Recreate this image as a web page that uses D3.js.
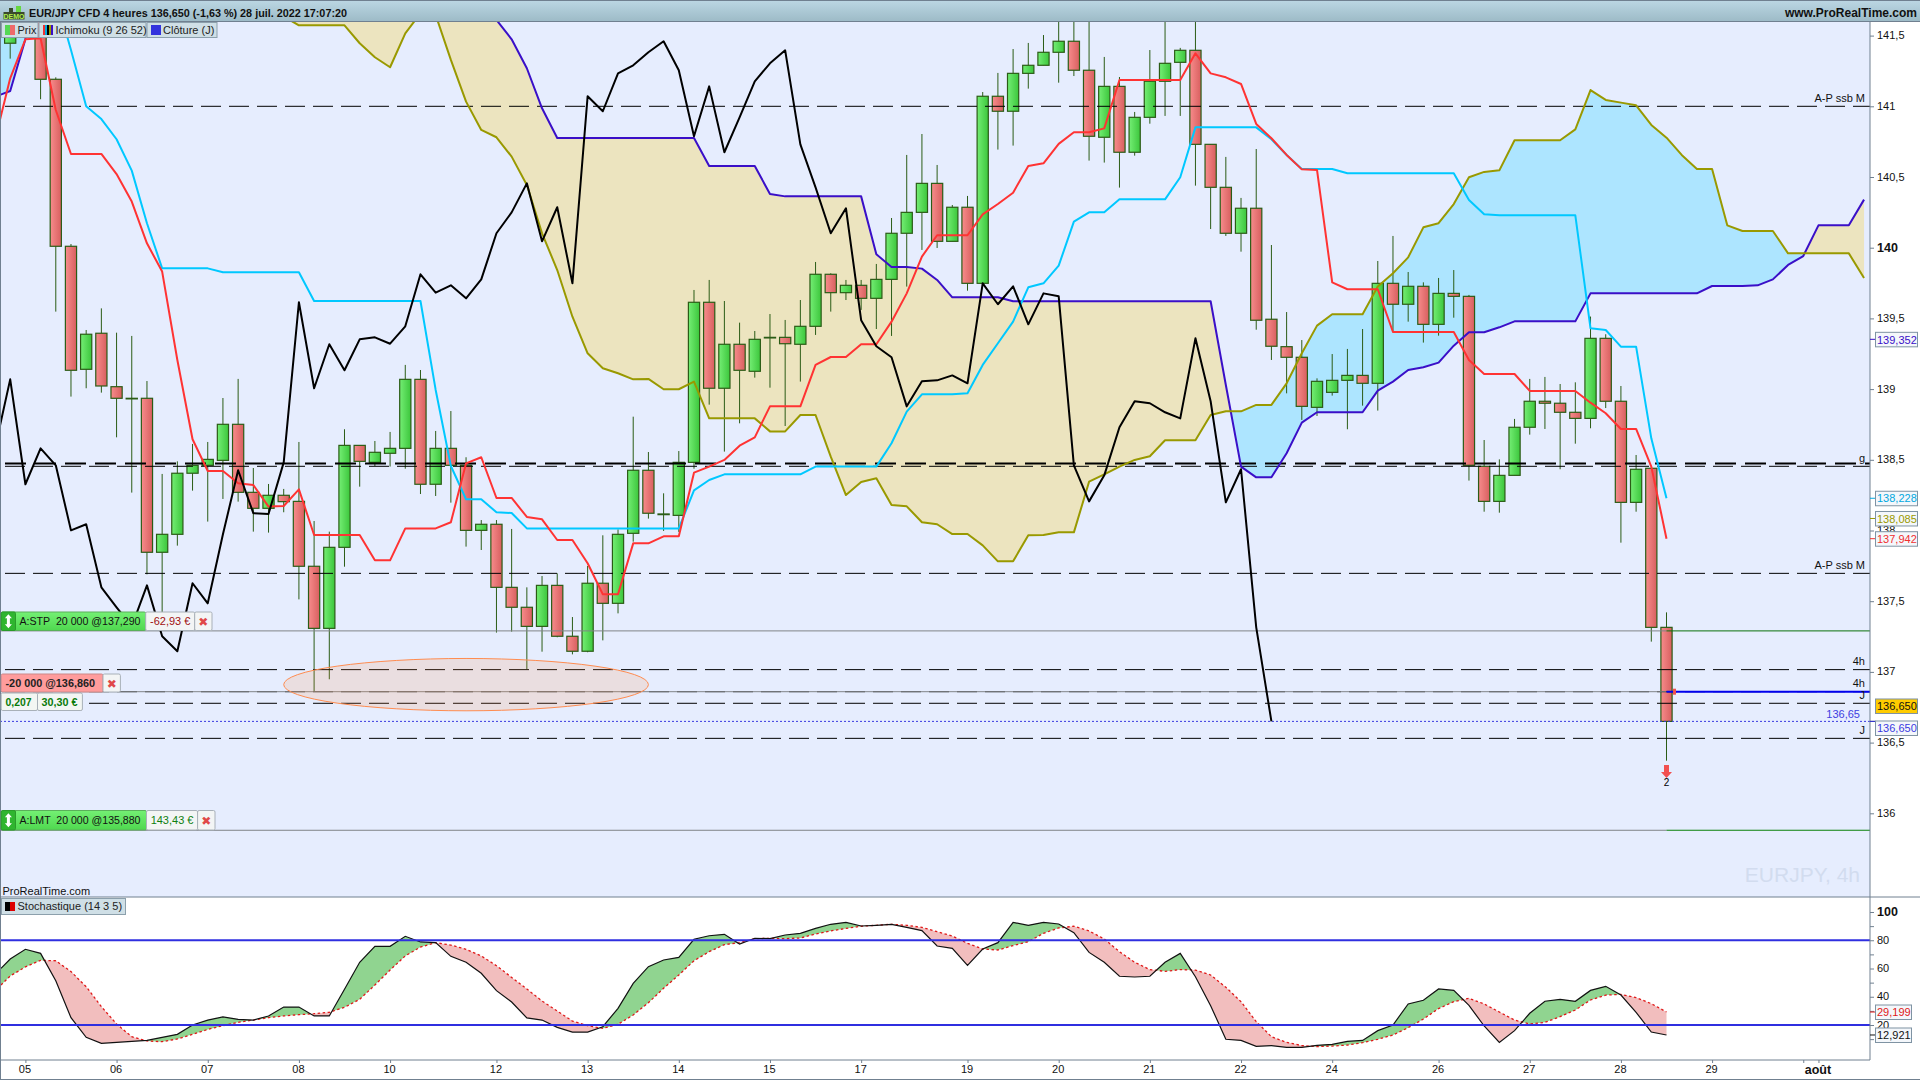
<!DOCTYPE html>
<html><head><meta charset="utf-8"><title>EUR/JPY</title>
<script src="https://cdn.jsdelivr.net/npm/d3@7"></script>
<style>html,body{margin:0;padding:0;background:#fff}svg{display:block}text{font-family:"Liberation Sans",Arial,sans-serif;white-space:pre}</style>
</head><body><div id="c"></div>
<script>
const opens=[141.446,141.504,141.634,141.191,140.010,139.140,139.395,139.017,138.935,138.935,137.846,137.973,138.405,138.461,138.496,138.751,138.270,138.157,138.249,138.206,137.747,137.308,137.881,138.602,138.482,138.546,138.581,139.069,138.327,138.581,138.461,138.001,138.044,137.598,137.457,137.322,137.612,137.252,137.146,137.627,137.485,137.980,138.426,138.112,138.107,138.482,139.614,139.006,139.317,139.126,139.362,139.366,139.317,139.444,139.812,139.682,139.734,139.642,139.776,140.102,140.250,140.455,140.045,140.286,139.748,141.071,140.965,141.233,141.290,141.382,141.460,141.255,140.781,141.141,140.675,140.922,141.177,141.311,141.396,140.731,140.427,140.102,140.279,139.494,139.300,139.225,138.871,138.977,139.062,139.097,139.041,139.748,139.600,139.727,139.458,139.677,139.656,138.454,138.206,138.390,138.730,138.914,138.900,138.836,138.793,139.359,138.914,138.199,138.440,137.315];
const highs=[141.705,141.658,141.681,141.205,140.026,139.418,139.571,139.399,139.376,139.057,138.400,138.489,138.612,138.626,138.937,139.072,138.442,138.329,138.294,138.626,138.067,137.992,138.716,138.602,138.633,138.697,139.171,139.135,138.704,138.845,138.518,138.074,138.074,138.011,137.598,137.678,137.697,137.388,137.749,137.966,138.008,138.805,138.555,138.263,138.562,139.701,139.772,139.623,139.470,139.411,139.531,139.489,139.630,139.899,139.819,139.772,139.772,139.885,140.210,140.656,140.804,140.585,140.302,140.366,141.101,141.236,141.405,141.448,141.504,141.634,141.634,141.658,141.349,141.207,140.960,141.398,141.646,141.413,141.646,140.731,140.642,140.352,140.698,140.019,139.545,139.347,139.076,139.248,139.284,139.425,139.906,140.083,139.828,139.755,139.786,139.842,139.666,138.640,138.503,138.789,139.072,139.086,139.036,139.048,139.513,139.388,139.022,138.534,138.440,137.421];
const lows=[141.337,141.488,141.050,139.548,138.947,139.006,138.975,138.659,138.268,137.690,137.344,137.893,138.282,138.063,138.223,138.204,137.992,137.985,138.129,137.513,136.860,136.948,137.744,138.310,138.456,138.452,138.437,138.258,138.244,138.197,137.886,137.862,137.278,137.285,137.018,137.143,137.245,137.124,137.139,137.223,137.414,137.921,138.084,137.997,137.990,138.437,138.890,138.558,138.758,139.081,139.010,138.739,139.053,139.383,139.548,139.630,139.560,139.425,139.376,139.725,139.984,139.998,140.045,139.696,139.748,140.694,140.722,141.125,141.290,141.167,141.214,140.616,140.602,140.425,140.651,140.877,140.932,140.932,140.439,140.132,140.083,139.972,139.420,139.206,138.970,138.782,138.810,138.954,138.716,138.883,138.848,139.402,139.477,139.329,139.378,139.505,138.353,138.133,138.126,138.390,138.678,138.718,138.433,138.614,138.723,138.866,137.914,138.133,137.214,136.372];
const closes=[141.658,141.611,141.191,140.010,139.133,139.388,139.022,138.935,138.935,137.846,137.973,138.405,138.461,138.503,138.751,138.270,138.157,138.249,138.204,137.747,137.308,137.881,138.602,138.489,138.553,138.581,139.069,138.327,138.581,138.461,138.001,138.044,137.598,137.457,137.322,137.612,137.252,137.146,137.627,137.485,137.973,138.426,138.122,138.117,138.482,139.614,139.006,139.317,139.133,139.352,139.366,139.321,139.444,139.812,139.682,139.734,139.642,139.776,140.102,140.250,140.455,140.045,140.286,139.748,141.071,140.965,141.233,141.290,141.382,141.460,141.255,140.788,141.141,140.675,140.922,141.177,141.304,141.396,140.731,140.427,140.102,140.279,139.487,139.303,139.225,138.878,139.055,139.062,139.097,139.041,139.748,139.600,139.727,139.458,139.677,139.656,138.461,138.206,138.390,138.730,138.914,138.900,138.836,138.793,139.359,138.914,138.199,138.433,137.315,136.650];
const tenkan=[140.762,141.198,141.474,141.481,140.974,140.663,140.663,140.663,140.521,140.326,140.031,139.831,139.206,138.645,138.421,138.421,138.334,138.322,138.169,138.173,138.291,137.968,137.968,137.968,137.968,137.789,137.789,138.015,138.015,138.015,138.058,138.475,138.518,138.230,138.230,138.096,138.079,137.933,137.933,137.768,137.549,137.549,137.909,137.909,137.959,137.959,138.409,138.452,138.499,138.600,138.659,138.878,138.878,138.878,139.171,139.227,139.227,139.317,139.317,139.477,139.677,139.937,140.088,140.088,140.088,140.236,140.309,140.389,140.578,140.597,140.734,140.816,140.816,140.844,141.186,141.186,141.186,141.186,141.186,141.375,141.233,141.205,141.158,140.875,140.774,140.656,140.554,140.550,139.755,139.706,139.706,139.706,139.404,139.404,139.404,139.404,139.404,139.206,139.107,139.107,139.107,138.987,138.987,138.987,138.987,138.904,138.829,138.718,138.718,138.452,137.942];
const kijun=[141.988,141.988,141.988,141.988,141.776,141.398,141.000,140.910,140.767,140.545,140.173,139.854,139.854,139.854,139.854,139.826,139.826,139.826,139.826,139.826,139.826,139.623,139.623,139.623,139.623,139.623,139.623,139.623,139.623,138.994,138.456,138.221,138.221,138.129,138.124,138.015,138.015,138.015,138.015,138.015,138.015,138.015,138.015,138.015,138.015,138.015,138.284,138.357,138.397,138.397,138.397,138.397,138.397,138.397,138.452,138.452,138.452,138.452,138.452,138.617,138.841,138.963,138.963,138.963,138.970,139.171,139.324,139.477,139.720,139.748,139.873,140.184,140.250,140.250,140.342,140.342,140.342,140.342,140.498,140.851,140.851,140.851,140.851,140.851,140.767,140.656,140.557,140.557,140.557,140.526,140.526,140.526,140.526,140.526,140.526,140.526,140.526,140.338,140.236,140.229,140.229,140.229,140.229,140.229,140.229,139.430,139.418,139.300,139.300,138.652,138.228];
const chikou=[138.581,139.069,138.327,138.581,138.461,138.001,138.044,137.598,137.457,137.322,137.612,137.252,137.146,137.627,137.485,137.973,138.426,138.122,138.117,138.482,139.614,139.006,139.317,139.133,139.352,139.366,139.321,139.444,139.812,139.682,139.734,139.642,139.776,140.102,140.250,140.455,140.045,140.286,139.748,141.071,140.965,141.233,141.290,141.382,141.460,141.255,140.788,141.141,140.675,140.922,141.177,141.304,141.396,140.731,140.427,140.102,140.279,139.487,139.303,139.225,138.878,139.055,139.062,139.097,139.041,139.748,139.600,139.727,139.458,139.677,139.656,138.461,138.206,138.390,138.730,138.914,138.900,138.836,138.793,139.359,138.914,138.199,138.433,137.315,136.650];
const ssa=[141.988,141.988,141.988,141.988,141.988,141.988,141.988,141.988,141.988,141.988,141.988,141.988,141.988,141.988,141.988,141.988,141.988,141.988,141.988,141.634,141.573,141.573,141.573,141.573,141.446,141.347,141.276,141.516,141.658,141.646,141.328,141.033,140.833,140.781,140.644,140.444,140.102,139.842,139.512,139.253,139.147,139.112,139.069,139.072,138.999,138.999,139.053,138.793,138.793,138.793,138.793,138.701,138.701,138.817,138.817,138.522,138.251,138.343,138.369,138.181,138.171,138.058,138.044,137.975,137.975,137.895,137.782,137.782,137.966,137.968,137.987,137.987,138.345,138.397,138.452,138.499,138.525,138.638,138.638,138.638,138.817,138.843,138.843,138.888,138.888,139.041,139.253,139.449,139.529,139.529,139.529,139.725,139.819,139.932,140.144,140.173,140.309,140.498,140.536,140.547,140.760,140.760,140.760,140.760,140.837,141.115,141.045,141.026,141.007,140.868,140.778,140.656,140.557,140.557,140.158,140.118,140.118,140.118,139.960,139.960,139.960,139.960,139.960,139.786];
const ssb=[141.068,141.108,141.474,142.223,142.223,142.223,142.223,142.223,142.223,142.223,142.223,142.223,142.223,142.223,142.223,142.223,142.223,142.223,142.223,142.223,142.223,142.223,142.223,142.223,142.223,142.223,142.223,142.223,142.223,142.223,142.223,142.223,141.870,141.611,141.474,141.269,140.986,140.776,140.776,140.776,140.776,140.776,140.776,140.776,140.776,140.776,140.776,140.578,140.578,140.578,140.578,140.380,140.363,140.363,140.363,140.363,140.363,140.363,139.953,139.864,139.864,139.852,139.772,139.649,139.649,139.649,139.649,139.621,139.621,139.621,139.621,139.621,139.621,139.621,139.621,139.621,139.621,139.621,139.621,139.621,139.621,139.029,138.452,138.376,138.376,138.546,138.763,138.836,138.836,138.836,138.836,138.989,139.053,139.135,139.154,139.187,139.307,139.402,139.402,139.437,139.479,139.479,139.479,139.479,139.479,139.677,139.677,139.677,139.677,139.677,139.677,139.677,139.677,139.729,139.729,139.729,139.734,139.776,139.878,139.941,140.158,140.158,140.158,140.340];
const stochK=[60.1,66.7,73.6,70.7,51.4,25.2,11.3,7.0,7.7,8.4,9.1,11.3,13.4,20.0,23.5,25.7,24.0,23.5,26.4,32.7,32.7,26.4,26.4,45.3,64.4,75.7,75.7,82.8,78.8,78.3,68.6,64.4,56.6,44.3,36.3,25.0,23.5,18.3,15.0,15.0,18.8,31.8,49.5,61.3,66.0,67.9,80.7,83.2,84.2,77.3,81.4,81.1,83.7,84.9,88.4,91.3,92.7,90.1,90.6,91.3,89.1,86.8,75.9,74.3,62.2,73.8,78.3,92.7,90.6,92.7,91.5,85.4,71.4,64.4,54.5,54.0,54.5,64.4,70.7,54.2,33.7,9.9,9.1,4.9,5.4,4.2,4.2,5.6,6.3,8.4,9.1,16.0,20.0,34.9,37.5,45.5,44.5,33.9,19.3,7.7,16.0,28.3,36.8,38.2,36.8,44.5,47.4,41.2,29.0,15.0,12.921];
const stochD=[48.3,54.7,61.1,65.8,65.5,57.8,47.1,33.0,20.7,11.7,8.7,8.2,10.1,13.4,16.9,19.5,21.9,23.5,25.2,26.4,27.3,28.0,29.0,32.5,38.2,48.3,58.9,68.9,75.2,78.3,76.6,73.6,68.9,62.0,53.7,45.5,37.0,29.9,22.8,19.5,17.6,20.5,27.1,35.8,46.0,55.4,65.5,71.9,76.9,78.3,81.1,81.4,81.1,81.6,84.4,86.6,88.4,89.9,90.6,91.3,90.6,89.1,86.1,83.0,77.8,73.8,73.1,76.2,79.0,84.9,88.7,89.9,86.6,80.9,71.9,64.4,59.2,58.0,59.2,58.9,55.4,46.7,36.5,22.4,11.7,7.7,5.4,4.7,5.1,5.8,7.5,9.9,12.9,18.1,24.2,31.6,36.5,38.9,34.9,29.2,23.5,20.7,21.9,25.9,30.6,37.7,41.2,41.7,39.4,35.1,29.199];
const dateIdx=[1,7,13,19,25,32,38,44,50,56,63,69,75,81,87,94,100,106,112,119];
const dateLabels=["05","06","07","08","10","12","13","14","15","17","19","20","21","22","24","26","27","28","29","août"];
const priceTicks=[141.5,141,140.5,140,139.5,139,138.5,138,137.5,137,136.5,136];
const stochTicks=[100,80,60,40,20];
const stochMinor=[90,70,50,30,10];
const dashedLevels=[141,138.454,137.697,137.016,136.860,136.778,136.530];
const thickLevel=138.473;
const stopLevel=137.29,entryLevel=136.86,limitLevel=135.88,lastLevel=136.65;

const W=1920,H=1080,plotTop=22,plotBot=897,axisX=1870,stochBot=1060;
const x=d3.scaleLinear().domain([0,109]).range([10.2,1666.5]);
const y=d3.scaleLinear().domain([141,136]).range([106.3,813.3]);
const ys=d3.scaleLinear().domain([100,20]).range([912,1025]);
const svg=d3.select("#c").append("svg").attr("width",W).attr("height",H).attr("viewBox",`0 0 ${W} ${H}`);
const defs=svg.append("defs");
function grad(id,stops,x2=1,y2=0){const g=defs.append("linearGradient").attr("id",id).attr("x1",0).attr("y1",0).attr("x2",x2).attr("y2",y2);
 stops.forEach((c,i)=>g.append("stop").attr("offset",i/(stops.length-1)).attr("stop-color",c));}
grad("gG",["#74ee74","#3cc63c"]);grad("gR",["#f78c8c","#d85f5f"]);
grad("hdr",["#bcd7e4","#9cbac6"],0,1);grad("lblG",["#74f074","#4fd84f"],0,1);
defs.append("clipPath").attr("id","pc").append("rect").attr("x",1).attr("y",plotTop).attr("width",axisX-1).attr("height",plotBot-plotTop);

svg.append("rect").attr("width",W).attr("height",H).attr("fill","#fff");
svg.append("rect").attr("x",0).attr("y",plotTop).attr("width",axisX).attr("height",plotBot-plotTop).attr("fill","#e6edfe");

const main=svg.append("g").attr("clip-path","url(#pc)");
function cross(a,b,start){const p=[];for(let k=0;k<a.length;k++){const i=start+k;p.push({i,a:a[k],b:b[k]});
 if(k<a.length-1){const d0=a[k]-b[k],d1=a[k+1]-b[k+1];if(d0*d1<0){const t=d0/(d0-d1),v=a[k]+t*(a[k+1]-a[k]);p.push({i:i+t,a:v,b:v});}}}return p;}
const cloud=cross(ssa,ssb,-1);
const ar=d3.area().x(d=>x(d.i)).y0(d=>y(d.a)).y1(d=>y(d.b));
main.append("path").attr("d",ar.defined(d=>d.a>=d.b)(cloud)).attr("fill","#ade5ff");
main.append("path").attr("d",ar.defined(d=>d.a<=d.b)(cloud)).attr("fill","#ece4bf");

const wick="#2b5c16";
main.append("g").selectAll("line").data(opens).join("line").attr("x1",(d,i)=>x(i)).attr("x2",(d,i)=>x(i))
 .attr("y1",(d,i)=>y(highs[i])).attr("y2",(d,i)=>y(lows[i])).attr("stroke",wick).attr("stroke-width",1);
main.append("g").selectAll("rect").data(opens).join("rect").attr("x",(d,i)=>x(i)-5.6).attr("width",11.2)
 .attr("y",(d,i)=>y(Math.max(d,closes[i]))).attr("height",(d,i)=>Math.max(0.6,y(Math.min(d,closes[i]))-y(Math.max(d,closes[i]))))
 .attr("fill",(d,i)=>closes[i]>=d?"url(#gG)":"url(#gR)").attr("stroke",wick).attr("stroke-width",1.2);

main.append("g").selectAll("line").data(dashedLevels).join("line").attr("x1",5).attr("x2",axisX).attr("y1",d=>y(d)).attr("y2",d=>y(d))
 .attr("stroke","#000").attr("stroke-width",1).attr("stroke-dasharray","20,8");
main.append("line").attr("x1",5).attr("x2",axisX).attr("y1",y(thickLevel)).attr("y2",y(thickLevel)).attr("stroke","#000").attr("stroke-width",2).attr("stroke-dasharray","21,9");
[stopLevel,entryLevel,limitLevel].forEach(v=>main.append("line").attr("x1",0).attr("x2",x(109)).attr("y1",y(v)).attr("y2",y(v)).attr("stroke","#808488").attr("stroke-width",1));
main.append("line").attr("x1",x(109)).attr("x2",axisX).attr("y1",y(stopLevel)).attr("y2",y(stopLevel)).attr("stroke","#0a700a").attr("stroke-width",1);
main.append("line").attr("x1",x(109)).attr("x2",axisX).attr("y1",y(limitLevel)).attr("y2",y(limitLevel)).attr("stroke","#0a800a").attr("stroke-width",1.2);
main.append("line").attr("x1",0).attr("x2",axisX).attr("y1",y(lastLevel)).attr("y2",y(lastLevel)).attr("stroke","#3a3ae0").attr("stroke-width",1).attr("stroke-dasharray","2,2");
main.append("line").attr("x1",x(109)).attr("x2",axisX).attr("y1",y(entryLevel)).attr("y2",y(entryLevel)).attr("stroke","#0000ee").attr("stroke-width",2);
main.append("path").attr("d",`M${x(109)+6.5},${y(entryLevel)-3}l3,0l0,6l-3,0z`).attr("fill","#f05050");

main.append("ellipse").attr("cx",x(30)).attr("cy",y(136.91)).attr("rx",x(12)-x(0)).attr("ry",y(136)-y(136.185))
 .attr("fill","rgba(255,140,70,.16)").attr("stroke","#ff8c50").attr("stroke-width",1);

const ln=d3.line().x(d=>x(d[0])).y(d=>y(d[1]));
function drawLine(vals,color,w){main.append("path").datum(vals.map((v,k)=>[k-1,v])).attr("d",ln).attr("fill","none").attr("stroke",color).attr("stroke-width",w).attr("stroke-linejoin","round");}
drawLine(ssb,"#3a0fc8",2);drawLine(ssa,"#999900",2);drawLine(kijun,"#00c8ff",2);drawLine(tenkan,"#ff3333",2);drawLine(chikou,"#000",2);

// down arrow
const ax=x(109);
svg.append("path").attr("d",`M${ax-2.5},765h5v7h3l-5.5,6l-5.5,-6h3z`).attr("fill","#f25050");
svg.append("text").attr("x",ax).attr("y",786).attr("text-anchor","middle").attr("font-size",10).text("2");

// in-chart labels
const rt=(t,yy,fs=11,col="#111",xx=1865)=>svg.append("text").attr("x",xx).attr("y",yy).attr("text-anchor","end").attr("font-size",fs).attr("fill",col).text(t);
rt("A-P ssb M",102);rt("A-P ssb M",569);rt("4h",665);rt("4h",687);rt("J",699);rt("J",734);rt("g",462);
rt("136,65",718,11,"#4040e0",1860);
rt("EURJPY, 4h",882,21,"#d2dcef",1860);
svg.append("text").attr("x",2.5).attr("y",895).attr("font-size",11).attr("fill","#111").text("ProRealTime.com");

// stochastic
const st=svg.append("g");
const sb=cross(stochK,stochD,-1);
const as=d3.area().x(d=>Math.max(1,x(d.i))).y0(d=>ys(d.a)).y1(d=>ys(d.b));
st.append("path").attr("d",as.defined(d=>d.a>=d.b)(sb)).attr("fill","#90d490");
st.append("path").attr("d",as.defined(d=>d.a<=d.b)(sb)).attr("fill","#f2bebe");
const ls=d3.line().x((d,k)=>Math.max(1,x(k-1))).y(d=>ys(d));
st.append("path").datum(stochD).attr("d",ls).attr("fill","none").attr("stroke","#e01818").attr("stroke-width",1.3).attr("stroke-dasharray","2.5,2.5");
st.append("path").datum(stochK).attr("d",ls).attr("fill","none").attr("stroke","#111").attr("stroke-width",1.2);
[80,20].forEach(v=>st.append("line").attr("x1",1).attr("x2",axisX).attr("y1",ys(v)).attr("y2",ys(v)).attr("stroke","#2f2fe0").attr("stroke-width",2));

// axes
const fmt=d=>String(d).replace(".",",");
const gy=svg.append("g").attr("transform",`translate(${axisX},0)`).call(d3.axisRight(y).tickValues(priceTicks).tickFormat(fmt).tickSize(4).tickPadding(3));
const gs=svg.append("g").attr("transform",`translate(${axisX},0)`).call(d3.axisRight(ys).tickValues(stochTicks).tickFormat(fmt).tickSize(4).tickPadding(3));
const gm=svg.append("g").attr("transform",`translate(${axisX},0)`).call(d3.axisRight(ys).tickValues(stochMinor).tickFormat("").tickSize(4));
const gx=svg.append("g").attr("transform",`translate(0,${stochBot})`).call(d3.axisBottom(x).tickValues(dateIdx).tickFormat((d,i)=>dateLabels[i]).tickSize(3).tickPadding(2));
svg.append("g").attr("transform",`translate(0,${stochBot})`).call(d3.axisBottom(x).tickValues([118]).tickFormat("").tickSize(3)).call(g=>g.select(".domain").remove()).selectAll("line").attr("stroke","#708090");
[gy,gs,gm,gx].forEach(g=>{g.select(".domain").remove();g.selectAll("line").attr("stroke","#708090");g.selectAll("text").attr("font-size",11).attr("font-family",'"Liberation Sans"').attr("fill","#111");});
gy.selectAll("text").attr("dy","0.28em");gs.selectAll("text").attr("dy","0.28em");
gx.selectAll("text").attr("dx",-1);
gy.selectAll("text").filter(d=>d===140).attr("font-weight","bold").attr("font-size",12.5);
gs.selectAll("text").filter(d=>d===100).attr("font-weight","bold").attr("font-size",12.5);
gx.selectAll("text").filter(d=>d===119).attr("font-weight","bold").attr("font-size",12.5);

const frame="#708090";
const hl=(x1,x2,yy,w=1)=>svg.append("line").attr("x1",x1).attr("x2",x2).attr("y1",yy).attr("y2",yy).attr("stroke",frame).attr("stroke-width",w);
const vl=(xx,y1,y2,w=1)=>svg.append("line").attr("x1",xx).attr("x2",xx).attr("y1",y1).attr("y2",y2).attr("stroke",frame).attr("stroke-width",w);
hl(0,W,plotBot,1);hl(0,axisX,stochBot,1);hl(0,W,1079.5,1);vl(axisX,plotTop,stochBot,1);vl(0.5,plotTop,H,1);

// header
svg.append("rect").attr("width",W).attr("height",22).attr("fill","url(#hdr)");hl(0,W,0.5,1);hl(0,W,21.5,1);
svg.append("text").attr("x",29).attr("y",16.5).attr("font-size",11.5).attr("font-weight","bold").attr("textLength",318).attr("lengthAdjust","spacingAndGlyphs").attr("fill","#111").text("EUR/JPY CFD 4 heures 136,650 (-1,63 %) 28 juil. 2022 17:07:20");
svg.append("text").attr("x",1917).attr("y",16.5).attr("text-anchor","end").attr("font-size",12).attr("font-weight","bold").attr("fill","#111").text("www.ProRealTime.com");
svg.append("rect").attr("x",3.5).attr("y",12).attr("width",21).attr("height",7.5).attr("fill","#3a4a2a");
svg.append("rect").attr("x",9).attr("y",8).attr("width",4).attr("height",4).attr("fill","#3a4a2a");
svg.append("rect").attr("x",16).attr("y",6).attr("width",5).attr("height",6).attr("fill","#66d840");
svg.append("text").attr("x",14).attr("y",18.6).attr("text-anchor","middle").attr("font-size",7).attr("font-weight","bold").attr("fill","#b0f050").text("DEMO");

// legends
function legBox(x0,x1,y0,y1){svg.append("rect").attr("x",x0+.5).attr("y",y0+.5).attr("width",x1-x0-1).attr("height",y1-y0-1).attr("fill","#cfdfe6").attr("stroke","#8ca0ac");}
function sw(xx,yy,w,h,cols){cols.forEach((c,i)=>svg.append("rect").attr("x",xx+i*w/cols.length).attr("y",yy).attr("width",w/cols.length).attr("height",h).attr("fill",c));}
const lt=(t,xx,yy)=>svg.append("text").attr("x",xx).attr("y",yy).attr("font-size",11).attr("fill","#222").text(t);
legBox(1,38.5,22,38);legBox(38.5,146.5,22,38);legBox(146.5,217.5,22,38);
sw(5,25,10,10,["#54d854","#ee6a6a"]);lt("Prix",17.5,34);
sw(43,25,10,10,["#ee3333","#00aadd","#000","#999900","#3a0fc8"]);lt("Ichimoku (9 26 52)",55.5,34);
sw(151,25,10,10,["#3333dd"]);lt("Clôture (J)",163,34);
legBox(1,126,898,915);sw(5,902,10,9,["#000","#dd0000"]);lt("Stochastique (14 3 5)",17.5,910);

// order tags
function box(x0,x1,y0,y1,fill,stroke="#a8b0b8"){svg.append("rect").attr("x",x0).attr("y",y0+.5).attr("width",x1-x0).attr("height",y1-y0-1).attr("rx",1.5).attr("fill",fill).attr("stroke",stroke);}
function tag(t,xx,yy,col="#111",w="normal",anchor="start",len=null){const s=svg.append("text").attr("x",xx).attr("y",yy).attr("font-size",11).attr("font-weight",w).attr("fill",col).attr("text-anchor",anchor).text(t);
 if(len)s.attr("textLength",len).attr("lengthAdjust","spacingAndGlyphs");}
function closeX(cx,cy){svg.append("text").attr("x",cx).attr("y",cy).attr("text-anchor","middle").attr("font-size",12).style("font-family","DejaVu Sans").attr("fill","#e04848").text("✖");}
function arrowBox(y0,y1){box(1.2,15.5,y0,y1,"#2fb52f","#2a9a2a");const c=(y0+y1)/2,xx=8.4;
 svg.append("path").attr("d",`M${xx},${c-7}l3.5,4h-2v6h2l-3.5,4l-3.5,-4h2v-6h-2z`).attr("fill","#fff");}
function order(y0,y1,x1,x2,x3,t,pnl,col){box(1.2,x1,y0,y1,"url(#lblG)","#5ab05a");box(x1,x2,y0,y1,"#f3f5f5");box(x2,x3,y0,y1,"#f3f5f5");arrowBox(y0,y1);
 tag(t,19.5,(y0+y1)/2+4,"#111","normal","start",121);tag(pnl,(x1+x2)/2,(y0+y1)/2+4,col,"normal","middle");closeX((x2+x3)/2,(y0+y1)/2+4.5);}
order(611.5,631,145.7,194.7,212,"A:STP  20 000 @137,290","-62,93 €","#a01010");
order(810,830.5,146.5,197.6,215,"A:LMT  20 000 @135,880","143,43 €","#108010");
box(1.2,103,673.5,692.5,"#ff9c9c","#c88");box(103,120.4,673.5,692.5,"#f3f5f5");
tag("-20 000 @136,860",5.5,687,"#222","bold","start",89.5);closeX(111.7,687.5);
box(1.2,37.5,692.5,711,"#f3f6f3");box(37.5,82.4,692.5,711,"#f3f6f3");
tag("0,207",5.5,706,"#0a7a0a","bold","start",26);tag("30,30 €",41.5,706,"#0a7a0a","bold","start",36);

// value tags on the axis
const axisTags=[
 {t:"139,352",v:139.352,c:"#3a0fc8",s:y,f:"#f4f7fb"},
 {t:"138,228",v:138.228,c:"#00a8e0",s:y,f:"#f4f7fb"},
 {t:"138,085",v:138.085,c:"#999900",s:y,f:"#f4f7fb"},
 {t:"137,942",v:137.942,c:"#f03030",s:y,f:"#f4f7fb"},
 {t:"136,650",v:136.65,c:"#111",s:y,f:"#ffcc00",dy:-15.4},
 {t:"136,650",v:136.65,c:"#3a3ae0",s:y,f:"#f4f7fb",dy:6.6},
 {t:"29,199",v:29.199,c:"#e01818",s:ys,f:"#f4f7fb",w:36},
 {t:"12,921",v:12.921,c:"#111",s:ys,f:"#f4f7fb",w:36}];
axisTags.forEach(d=>{const yy=d.s(d.v)+(d.dy||0),w=d.w||42;
 svg.append("line").attr("x1",axisX).attr("x2",axisX+5.5).attr("y1",d.s(d.v)).attr("y2",d.s(d.v)).attr("stroke",d.c);
 svg.append("rect").attr("x",1875.5).attr("y",yy-7).attr("width",w).attr("height",14.5).attr("fill",d.f).attr("stroke","#7f93a3");
 svg.append("text").attr("x",1877).attr("y",yy+4.2).attr("font-size",11).attr("fill",d.c).text(d.t);});
</script></body></html>
